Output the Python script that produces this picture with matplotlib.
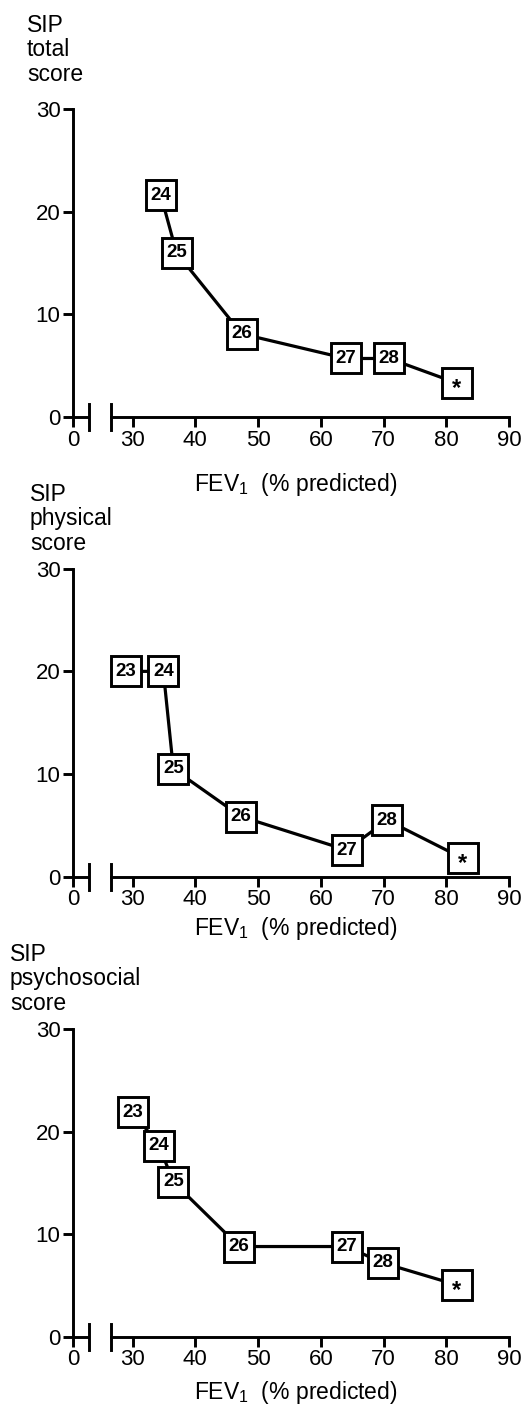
import numpy as np
import matplotlib.pyplot as plt

plt.rcParams['font.family'] = ['Liberation Sans', 'DejaVu Sans']
plt.rcParams['mathtext.fontset'] = 'custom'
plt.rcParams['mathtext.rm'] = 'Liberation Sans'
plt.rcParams['mathtext.it'] = 'Liberation Sans:italic'

# Dados (FEV1 % previsto, escore SIP).
etiquetas_total = ['24', '25', '26', '27', '28', '*']
fev_total = [34.5, 37.0, 47.4, 64.0, 70.9, 81.7]
sip_total = [21.6, 16.0, 8.1, 5.7, 5.7, 3.3]

etiquetas_fis = ['23', '24', '25', '26', '27', '28', '*']
fev_fis = [28.9, 34.9, 36.5, 47.3, 64.1, 70.6, 82.6]
sip_fis = [20.0, 20.0, 10.5, 5.85, 2.6, 5.5, 1.8]

etiquetas_psi = ['23', '24', '25', '26', '27', '28', '*']
fev_psi = [30.1, 34.2, 36.5, 47.0, 64.1, 69.9, 81.7]
sip_psi = [21.9, 18.65, 15.1, 8.8, 8.8, 7.2, 5.05]

x_ticks = [0, 30, 40, 50, 60, 70, 80, 90]
y_ticks = [0, 10, 20, 30]

# Eixo x quebrado: o 0 fica desenhado na posição 20.5.
ZERO = 20.5
QUEBRA1 = 23.1
QUEBRA2 = 26.5
LW = 2.1

W, H = 524, 1409
fig = plt.figure(figsize=(W / 100, H / 100), dpi=100)


def painel(y0_px, y30_px, fev, sip, etiquetas, titulo, tit_xy, xlab_y):
    ax = fig.add_axes([73 / W, 1 - y0_px / H, 436 / W, (y0_px - y30_px) / H])
    ax.set_xlim(ZERO, 90)
    ax.set_ylim(0, 30)
    for s in ['top', 'right']:
        ax.spines[s].set_visible(False)
    for s in ['left', 'bottom']:
        ax.spines[s].set_linewidth(LW)
    ax.spines['bottom'].set_bounds(QUEBRA2, 90)

    # pedaço do eixo antes da quebra e as marcas da quebra
    ax.plot([ZERO, QUEBRA1], [0, 0], color='k', lw=LW, clip_on=False,
            solid_capstyle='butt')
    for xq in [QUEBRA1, QUEBRA2]:
        ax.plot([xq, xq], [-1.25, 1.25], color='k', lw=LW, clip_on=False)

    pos = [ZERO if v == 0 else v for v in x_ticks]
    ax.set_xticks(pos)
    ax.set_xticklabels([str(v) for v in x_ticks])
    ax.set_yticks(y_ticks)
    ax.set_yticklabels([str(v) for v in y_ticks])
    ax.tick_params(labelsize=16, length=7, width=LW, pad=2)

    ax.plot(fev, sip, '-', color='k', lw=2.3, zorder=2, clip_on=False)
    ax.plot(fev, sip, 's', ms=21.5, mfc='white', mec='k', mew=2.1, zorder=3,
            clip_on=False)
    for xi, yi, lab in zip(fev, sip, etiquetas):
        if lab == '*':
            ax.annotate(lab, (xi, yi), xytext=(0, -4), textcoords='offset points',
                        ha='center', va='center', fontsize=17, fontweight='bold',
                        zorder=4)
        else:
            ax.annotate(lab, (xi, yi), ha='center', va='center', fontsize=13.5,
                        fontweight='bold', zorder=4)

    fig.text(tit_xy[0] / W, 1 - tit_xy[1] / H, titulo, ha='left', va='top',
             fontsize=16.5, linespacing=1.08)
    fig.text(296 / W, 1 - xlab_y / H, 'FEV$_1$  (% predicted)', ha='center',
             va='center', fontsize=16.5)
    return ax


painel(417, 109, fev_total, sip_total, etiquetas_total,
       'SIP\ntotal\nscore', (27, 14), 485)
painel(876.7, 568.7, fev_fis, sip_fis, etiquetas_fis,
       'SIP\nphysical\nscore', (30, 483), 928)
painel(1336.7, 1029.3, fev_psi, sip_psi, etiquetas_psi,
       'SIP\npsychosocial\nscore', (10, 943), 1392)

plt.savefig('out.png', dpi=100)
